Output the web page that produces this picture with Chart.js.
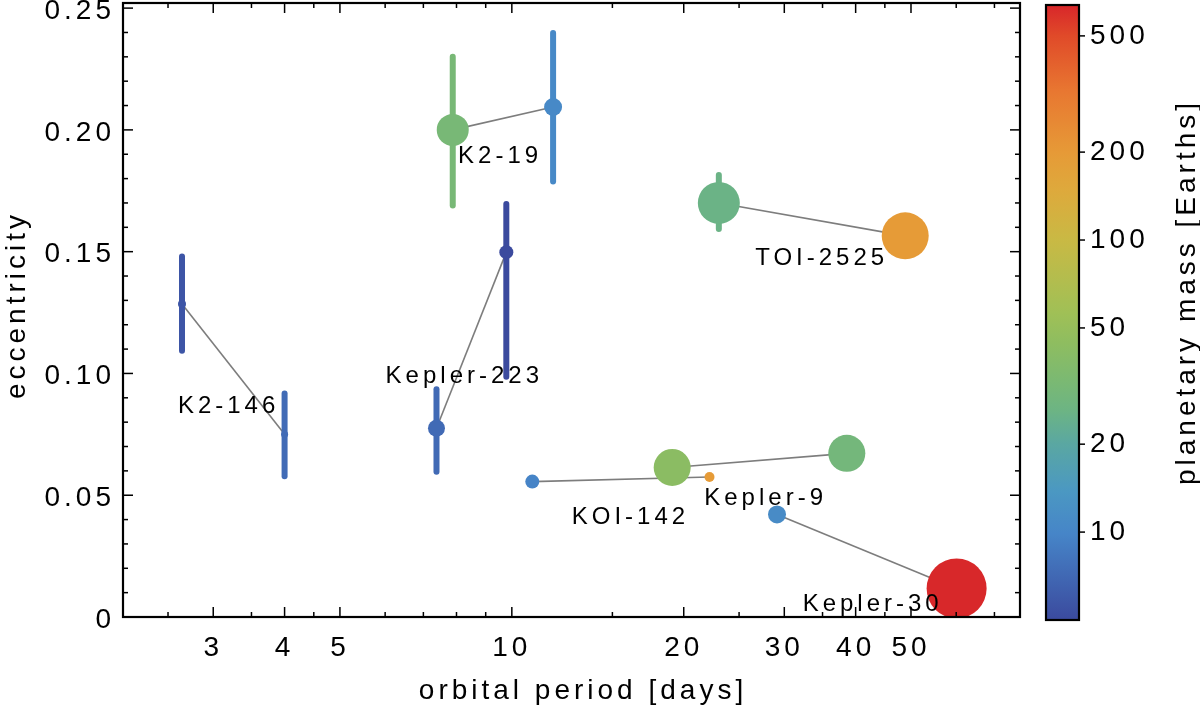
<!DOCTYPE html>
<html><head><meta charset="utf-8">
<script src="https://cdn.jsdelivr.net/npm/chart.js@4.4.0/dist/chart.umd.min.js"></script>
<style>html,body{margin:0;padding:0;background:#fff;}#wrap{width:1200px;height:714px;position:relative;}</style>
</head><body><div id="wrap"><canvas id="c" width="1200" height="714"></canvas></div>
<script>
// ---------------- data ----------------
const planetNames = ['K2-146 b','K2-146 c','K2-19 b','K2-19 c','Kepler-223 b','Kepler-223 c','KOI-142 b','KOI-142 c','Kepler-9 b','Kepler-9 c','Kepler-30 b','Kepler-30 c','TOI-2525 b','TOI-2525 c'];
const periodDays   = [2.645, 4.00, 7.88, 11.81, 7.38, 9.78, 10.86, 22.19, 19.09, 38.6, 29.13, 60.1, 23.04, 48.85];
const eccentricity = [0.1285, 0.075, 0.200, 0.2094, 0.0775, 0.1498, 0.0556, 0.0575, 0.0614, 0.0672, 0.0421, 0.0117, 0.170, 0.1565];
const eccLow       = [0.1093, 0.0578, 0.169, 0.1788, 0.0596, 0.0986, null, null, null, null, null, null, 0.1593, null];
const eccHigh      = [0.148, 0.0918, 0.230, 0.2398, 0.0935, 0.1696, null, null, null, null, null, null, 0.1815, null];
const massEarth    = [5.8, 7.5, 32, 10.8, 7.4, 5.1, 10, 200, 43, 30, 11.3, 640, 26, 200];
const markerRadius = [4, 3.5, 16, 9, 8.5, 7, 7, 5, 18.5, 18.5, 9, 30, 21, 23.5];
const systemPairs  = [[0,1],[2,3],[4,5],[6,7],[8,9],[10,11],[12,13]];
const systemLabels = ['K2-146','K2-19','Kepler-223','KOI-142','Kepler-9','Kepler-30','TOI-2525'];
const labelPeriod  = [3.166, 9.46, 8.19, 16.0, 27.6, 42.5, 34.6];
const labelEcc     = [0.0863, 0.189, 0.0988, 0.0411, 0.0488, 0.0052, 0.1474];
const xMajorTicks  = [3,4,5,10,20,30,40,50];
const xMinorTicks  = [2.5,3.5,4.5,6,7,8,9,15,25,35,45,60,70];
const yMajorTicks  = [0,0.05,0.10,0.15,0.20,0.25];
const yTickLabels  = ['0','0.05','0.10','0.15','0.20','0.25'];
const yMinorTicks  = [0.01,0.02,0.03,0.04,0.06,0.07,0.08,0.09,0.11,0.12,0.13,0.14,0.16,0.17,0.18,0.19,0.21,0.22,0.23,0.24];
const massTicks    = [10,20,50,100,200,500];
const massRange    = [5.12, 648];
const xRange       = [2.085, 77.6];
const yRange       = [0, 0.2521];

// ---------------- styles ----------------
const FONT = '"Liberation Sans", Arial, Helvetica, sans-serif';
const cmapStops = [
 [0.00,'#3b4a9e'],[0.14,'#4685c8'],[0.21,'#4b98c2'],[0.286,'#5aa7a2'],[0.34,'#6cb484'],
 [0.39,'#7bb972'],[0.45,'#8ebd60'],[0.50,'#a0c056'],[0.618,'#c9b944'],[0.70,'#dea93c'],
 [0.76,'#e69a37'],[0.86,'#e87731'],[0.95,'#e04a29'],[1.00,'#d8262a']
];
function hex2rgb(h){return [parseInt(h.substr(1,2),16),parseInt(h.substr(3,2),16),parseInt(h.substr(5,2),16)];}
function cmap(t){
  t=Math.max(0,Math.min(1,t));
  for(let i=1;i<cmapStops.length;i++){
    if(t<=cmapStops[i][0]){
      const [t0,c0]=cmapStops[i-1],[t1,c1]=cmapStops[i];
      const f=(t-t0)/(t1-t0), a=hex2rgb(c0), b=hex2rgb(c1);
      return 'rgb('+a.map((v,k)=>Math.round(v+(b[k]-v)*f)).join(',')+')';
    }
  }
  return cmapStops[cmapStops.length-1][1];
}
function massColor(m){return cmap(Math.log(m/massRange[0])/Math.log(massRange[1]/massRange[0]));}

// ---------------- datasets ----------------
const datasets = [];
systemPairs.forEach(([a,b])=>{
  datasets.push({type:'line',data:[{x:periodDays[a],y:eccentricity[a]},{x:periodDays[b],y:eccentricity[b]}],
    borderColor:'#7d7d7d',borderWidth:1.6,pointRadius:0,fill:false,order:3,clip:0});
});
periodDays.forEach((p,i)=>{
  if(eccLow[i]==null) return;
  datasets.push({type:'line',data:[{x:p,y:eccLow[i]},{x:p,y:eccHigh[i]}],
    borderColor:massColor(massEarth[i]),borderWidth:6,borderCapStyle:'round',pointRadius:0,fill:false,order:2,clip:0});
});
datasets.push({type:'bubble',
  data:periodDays.map((p,i)=>({x:p,y:eccentricity[i],r:markerRadius[i]})),
  backgroundColor:massEarth.map(massColor),borderWidth:0,order:1,clip:0});

// ---------------- decoration plugin ----------------
const decor = {
  id:'decor',
  beforeDraw(chart){ chart.ctx.letterSpacing='4px'; },
  afterDatasetsDraw(chart){
    const ctx=chart.ctx, ca=chart.chartArea, xs=chart.scales.x, ys=chart.scales.y, cb=chart.scales.cb;
    ctx.save();
    ctx.strokeStyle='#000'; ctx.lineWidth=1.5; ctx.lineCap='butt';
    const seg=(x1,y1,x2,y2)=>{ctx.beginPath();ctx.moveTo(x1,y1);ctx.lineTo(x2,y2);ctx.stroke();};
    xMajorTicks.forEach(v=>{const p=xs.getPixelForValue(v);seg(p,ca.bottom,p,ca.bottom-10);seg(p,ca.top,p,ca.top+10);});
    xMinorTicks.forEach(v=>{const p=xs.getPixelForValue(v);seg(p,ca.bottom,p,ca.bottom-5);seg(p,ca.top,p,ca.top+5);});
    yMajorTicks.forEach(v=>{const p=ys.getPixelForValue(v);seg(ca.left,p,ca.left+10,p);seg(ca.right,p,ca.right-10,p);});
    yMinorTicks.forEach(v=>{const p=ys.getPixelForValue(v);seg(ca.left,p,ca.left+5,p);seg(ca.right,p,ca.right-5,p);});
    ctx.lineWidth=2.2;
    ctx.strokeRect(ca.left,ca.top,ca.right-ca.left,ca.bottom-ca.top);
    // colorbar
    const yT=cb.getPixelForValue(massRange[1])+2, yB=cb.getPixelForValue(massRange[0])+3;
    const bx=1046, bw=33;
    const g=ctx.createLinearGradient(0,yB,0,yT);
    cmapStops.forEach(([t,c])=>g.addColorStop(t,c));
    ctx.fillStyle=g; ctx.fillRect(bx,yT,bw,yB-yT);
    ctx.lineWidth=2.2; ctx.strokeRect(bx,yT,bw,yB-yT);
    ctx.lineWidth=1.5;
    massTicks.forEach(v=>{const p=cb.getPixelForValue(v);seg(bx+bw,p,bx+bw+6,p);});
    // annotations
    ctx.fillStyle='#000'; ctx.letterSpacing='4px';
    ctx.font='24px '+FONT; ctx.textAlign='center'; ctx.textBaseline='middle';
    systemLabels.forEach((s,i)=>{ctx.fillText(s,xs.getPixelForValue(labelPeriod[i])+2,ys.getPixelForValue(labelEcc[i]));});
    // titles
    ctx.font='28px '+FONT;
    ctx.fillText('orbital period [days]',583,691);
    ctx.save();ctx.translate(17,307);ctx.rotate(-Math.PI/2);ctx.fillText('eccentricity',2,0);ctx.restore();
    ctx.save();ctx.translate(1187,294);ctx.rotate(-Math.PI/2);ctx.fillText('planetary mass [Earths]',2,0);ctx.restore();
    ctx.restore();
  }
};
const noPadV = s=>{s.paddingTop=0;s.paddingBottom=0;};

new Chart(document.getElementById('c'),{
  type:'scatter',
  data:{datasets},
  options:{
    responsive:false, animation:false, events:[],
    layout:{autoPadding:false,padding:{top:3,left:0,right:0,bottom:0}},
    plugins:{legend:{display:false},tooltip:{enabled:false}},
    scales:{
      x:{type:'logarithmic',position:'bottom',min:xRange[0],max:xRange[1],
        grid:{display:false,drawTicks:false},border:{display:false},
        afterBuildTicks:s=>{s.ticks=xMajorTicks.map(v=>({value:v}));},
        afterFit:s=>{s.height=97;s.paddingLeft=0;s.paddingRight=0;},
        ticks:{autoSkip:false,maxRotation:0,padding:14,color:'#000',font:{family:FONT,size:28},
          callback:v=>String(v)}},
      y:{type:'linear',position:'left',min:yRange[0],max:yRange[1],
        grid:{display:false,drawTicks:false},border:{display:false},
        afterBuildTicks:s=>{s.ticks=yMajorTicks.map(v=>({value:v}));},
        afterFit:s=>{s.width=123;noPadV(s);},
        ticks:{autoSkip:false,padding:8,labelOffset:3,color:'#000',font:{family:FONT,size:28},
          callback:(v)=>{const i=yMajorTicks.findIndex(t=>Math.abs(t-v)<1e-9);return i>=0?yTickLabels[i]:'';}}},
      cb:{type:'logarithmic',axis:'y',position:'right',min:massRange[0],max:massRange[1],
        grid:{display:false,drawTicks:false},border:{display:false},
        afterBuildTicks:s=>{s.ticks=massTicks.map(v=>({value:v}));},
        afterFit:s=>{s.width=180;noPadV(s);},
        ticks:{autoSkip:false,padding:70,color:'#000',font:{family:FONT,size:28},
          callback:v=>String(v)}}
    }
  },
  plugins:[decor]
});
</script></body></html>
